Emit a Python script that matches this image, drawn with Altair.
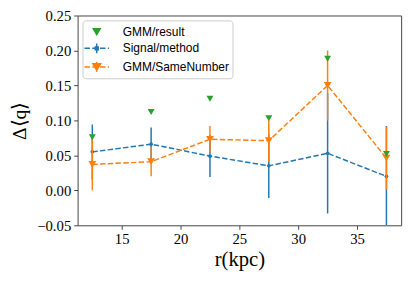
import altair as alt
import pandas as pd

r = [12.5, 17.5, 22.5, 27.5, 32.5, 37.5]
gmm_result = [0.076, 0.112, 0.131, 0.103, 0.188, 0.052]
signal = [0.055, 0.066, 0.049, 0.035, 0.053, 0.020]
signal_err = [0.039, 0.024, 0.030, 0.046, 0.086, 0.072]
same = [0.037, 0.041, 0.073, 0.071, 0.150, 0.046]
same_err = [0.037, 0.021, 0.019, 0.030, 0.050, 0.045]

series = ["GMM/result", "Signal/method", "GMM/SameNumber"]
colors = ["#2ca02c", "#1f77b4", "#ff7f0e"]

x_ticks = [15, 20, 25, 30, 35]
y_ticks = [-0.05, 0.0, 0.05, 0.10, 0.15, 0.20, 0.25]

sig = pd.DataFrame({"r": r, "v": signal,
                    "lo": [a - b for a, b in zip(signal, signal_err)],
                    "hi": [a + b for a, b in zip(signal, signal_err)]})
smn = pd.DataFrame({"r": r, "v": same,
                    "lo": [a - b for a, b in zip(same, same_err)],
                    "hi": [a + b for a, b in zip(same, same_err)]})
grn = pd.DataFrame({"r": r, "v": gmm_result})

leg = pd.DataFrame({"r": r * 3,
                    "v": gmm_result + signal + same,
                    "s": [series[0]] * 6 + [series[1]] * 6 + [series[2]] * 6})

dashes = "M-1.667,0H-0.927M-0.607,0H0.133M0.453,0H1.193M1.513,0H1.667"
shape_paths = [
    "M-0.47,-0.4L0.47,-0.4L0,0.4Z",
    dashes + "M0,-0.67V0.67M-0.2,-0.2H0.2V0.2H-0.2Z",
    dashes + "M0,-0.67V0.67M-0.53,-0.45L0.53,-0.45L0,0.45Z",
]

xs = alt.Scale(domain=[11.25, 38.75], nice=False, zero=False)
ys = alt.Scale(domain=[-0.05, 0.25], nice=False, zero=False)

xaxis = alt.Axis(values=x_ticks, format="d", labelOverlap=False)
yaxis = alt.Axis(values=y_ticks, format=".2f", labelOverlap=False)
X = alt.X("r:Q", scale=xs, title="r(kpc)", axis=xaxis)
Y = alt.Y("v:Q", scale=ys, title="Δ⟨q⟩", axis=yaxis)
YLO = alt.Y("lo:Q", scale=ys, title="Δ⟨q⟩", axis=yaxis)

dash = [5.5, 2.4]

sig_line = alt.Chart(sig).mark_line(color=colors[1], strokeWidth=1.5,
                                    strokeDash=dash, clip=True).encode(x=X, y=Y)
sig_err = alt.Chart(sig).mark_rule(color=colors[1], strokeWidth=1.5, clip=True).encode(
    x=X, y=YLO, y2="hi:Q")
sig_pt = alt.Chart(sig).mark_point(filled=True, color=colors[1], size=14,
                                   opacity=1, clip=True).encode(x=X, y=Y)

smn_err = alt.Chart(smn).mark_rule(color=colors[2], strokeWidth=1.5, clip=True).encode(
    x=X, y=YLO, y2="hi:Q")
smn_line = alt.Chart(smn).mark_line(color=colors[2], strokeWidth=1.5,
                                    strokeDash=dash, clip=True).encode(x=X, y=Y)
smn_pt = alt.Chart(smn).mark_point(filled=True, color=colors[2], size=64,
                                   shape="triangle-down", opacity=1,
                                   clip=True).encode(x=X, y=Y)

grn_pt = alt.Chart(grn).mark_point(filled=True, color=colors[0], size=50,
                                   shape="triangle-down", opacity=1,
                                   clip=True).encode(x=X, y=Y)

cscale = alt.Scale(domain=series, range=colors)
legend = alt.Legend(title=None, orient="top-left", offset=5,
                    fillColor="white", strokeColor="#cccccc", cornerRadius=3,
                    padding=3, symbolSize=225, symbolOffset=3, labelOffset=18,
                    symbolStrokeWidth=1.5, symbolOpacity=1, rowPadding=2,
                    labelFont="Liberation Sans", labelFontSize=12.2,
                    labelColor="black")
leg_layer = alt.Chart(leg).mark_point(filled=True, opacity=0).encode(
    x=X, y=Y,
    fill=alt.Fill("s:N", scale=cscale, legend=legend),
    stroke=alt.Stroke("s:N", scale=cscale, legend=legend),
    shape=alt.Shape("s:N", scale=alt.Scale(domain=series, range=shape_paths),
                    legend=legend),
)

chart = alt.layer(leg_layer, sig_line, sig_err, sig_pt, smn_err, smn_line,
                  smn_pt, grn_pt).properties(
    width=330, height=214,
    autosize=alt.AutoSizeParams(type="none"),
    padding={"left": 71, "top": 5, "right": 7, "bottom": 46},
).configure_view(stroke="#444444", strokeWidth=1).configure_axis(
    grid=False, domain=False, tickColor="#444444", tickSize=4, tickWidth=1,
    labelFont="Liberation Serif", labelFontSize=15, labelColor="black",
    labelPadding=3, labelOverlap=False, titleFont="Liberation Serif",
    titleFontWeight="normal", titleColor="black",
).configure_axisX(titleFontSize=21, titlePadding=2).configure_axisY(
    titleFontSize=20, titlePadding=7)

chart.save("out.html", embed_options={"renderer": "svg", "actions": False})
